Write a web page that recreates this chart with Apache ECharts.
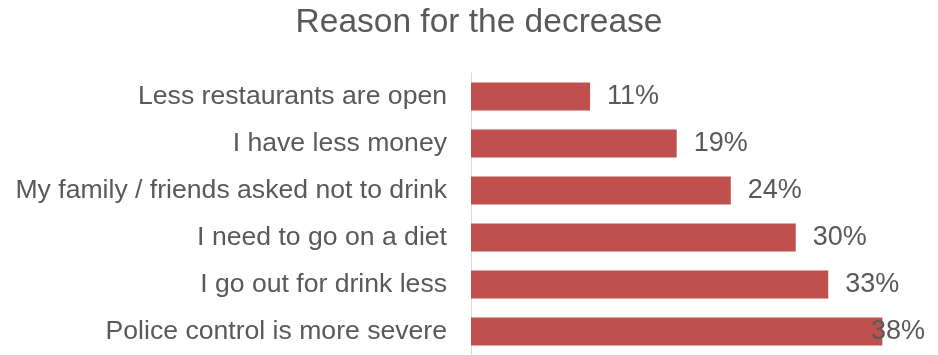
<!DOCTYPE html>
<html>
<head>
<meta charset="utf-8">
<script src="https://cdn.jsdelivr.net/npm/echarts@6/dist/echarts.min.js"></script>
<style>
  html, body { margin: 0; padding: 0; background: #fff; }
  #chart { width: 938px; height: 355px; }
</style>
</head>
<body>
<div id="chart"></div>
<script>
// Reasons, listed top to bottom
const reasons = [
  'Less restaurants are open',
  'I have less money',
  'My family / friends asked not to drink',
  'I need to go on a diet',
  'I go out for drink less',
  'Police control is more severe'
];
// Share of respondents, in percent
const shares = [11, 19, 24, 30, 33, 38];

const textColor = '#595959';
const font = 'Liberation Sans, Arial, sans-serif';
const labelRightLimit = 925; // keep value labels inside the canvas

const chart = echarts.init(document.getElementById('chart'), null, { renderer: 'canvas' });
chart.setOption({
  animation: false,
  backgroundColor: '#ffffff',
  title: {
    text: 'Reason for the decrease',
    left: 474,
    textAlign: 'center',
    top: 1,
    textStyle: { color: textColor, fontFamily: font, fontSize: 33.5, fontWeight: 'normal' }
  },
  grid: { left: 471, top: 73, width: 433, height: 286, containLabel: false },
  xAxis: {
    type: 'value',
    min: 0,
    max: 40,
    show: false
  },
  yAxis: {
    type: 'category',
    data: reasons,
    inverse: true,
    axisLine: { show: true, lineStyle: { color: '#d9d9d9', width: 1 } },
    axisTick: { show: false },
    axisLabel: { color: textColor, fontFamily: font, fontSize: 26.6, margin: 24 }
  },
  series: [{
    type: 'bar',
    data: shares,
    barWidth: 28,
    itemStyle: { color: '#C0504D' },
    label: {
      show: true,
      position: 'right',
      distance: 17,
      color: textColor,
      fontFamily: font,
      fontSize: 27,
      formatter: p => p.value + '%'
    },
    labelLayout: function (p) {
      const r = p.labelRect;
      if (r.x + r.width > labelRightLimit) {
        return {
          x: labelRightLimit - r.width,
          y: r.y + r.height / 2,
          align: 'left',
          verticalAlign: 'middle'
        };
      }
      return {};
    }
  }]
});
</script>
</body>
</html>
